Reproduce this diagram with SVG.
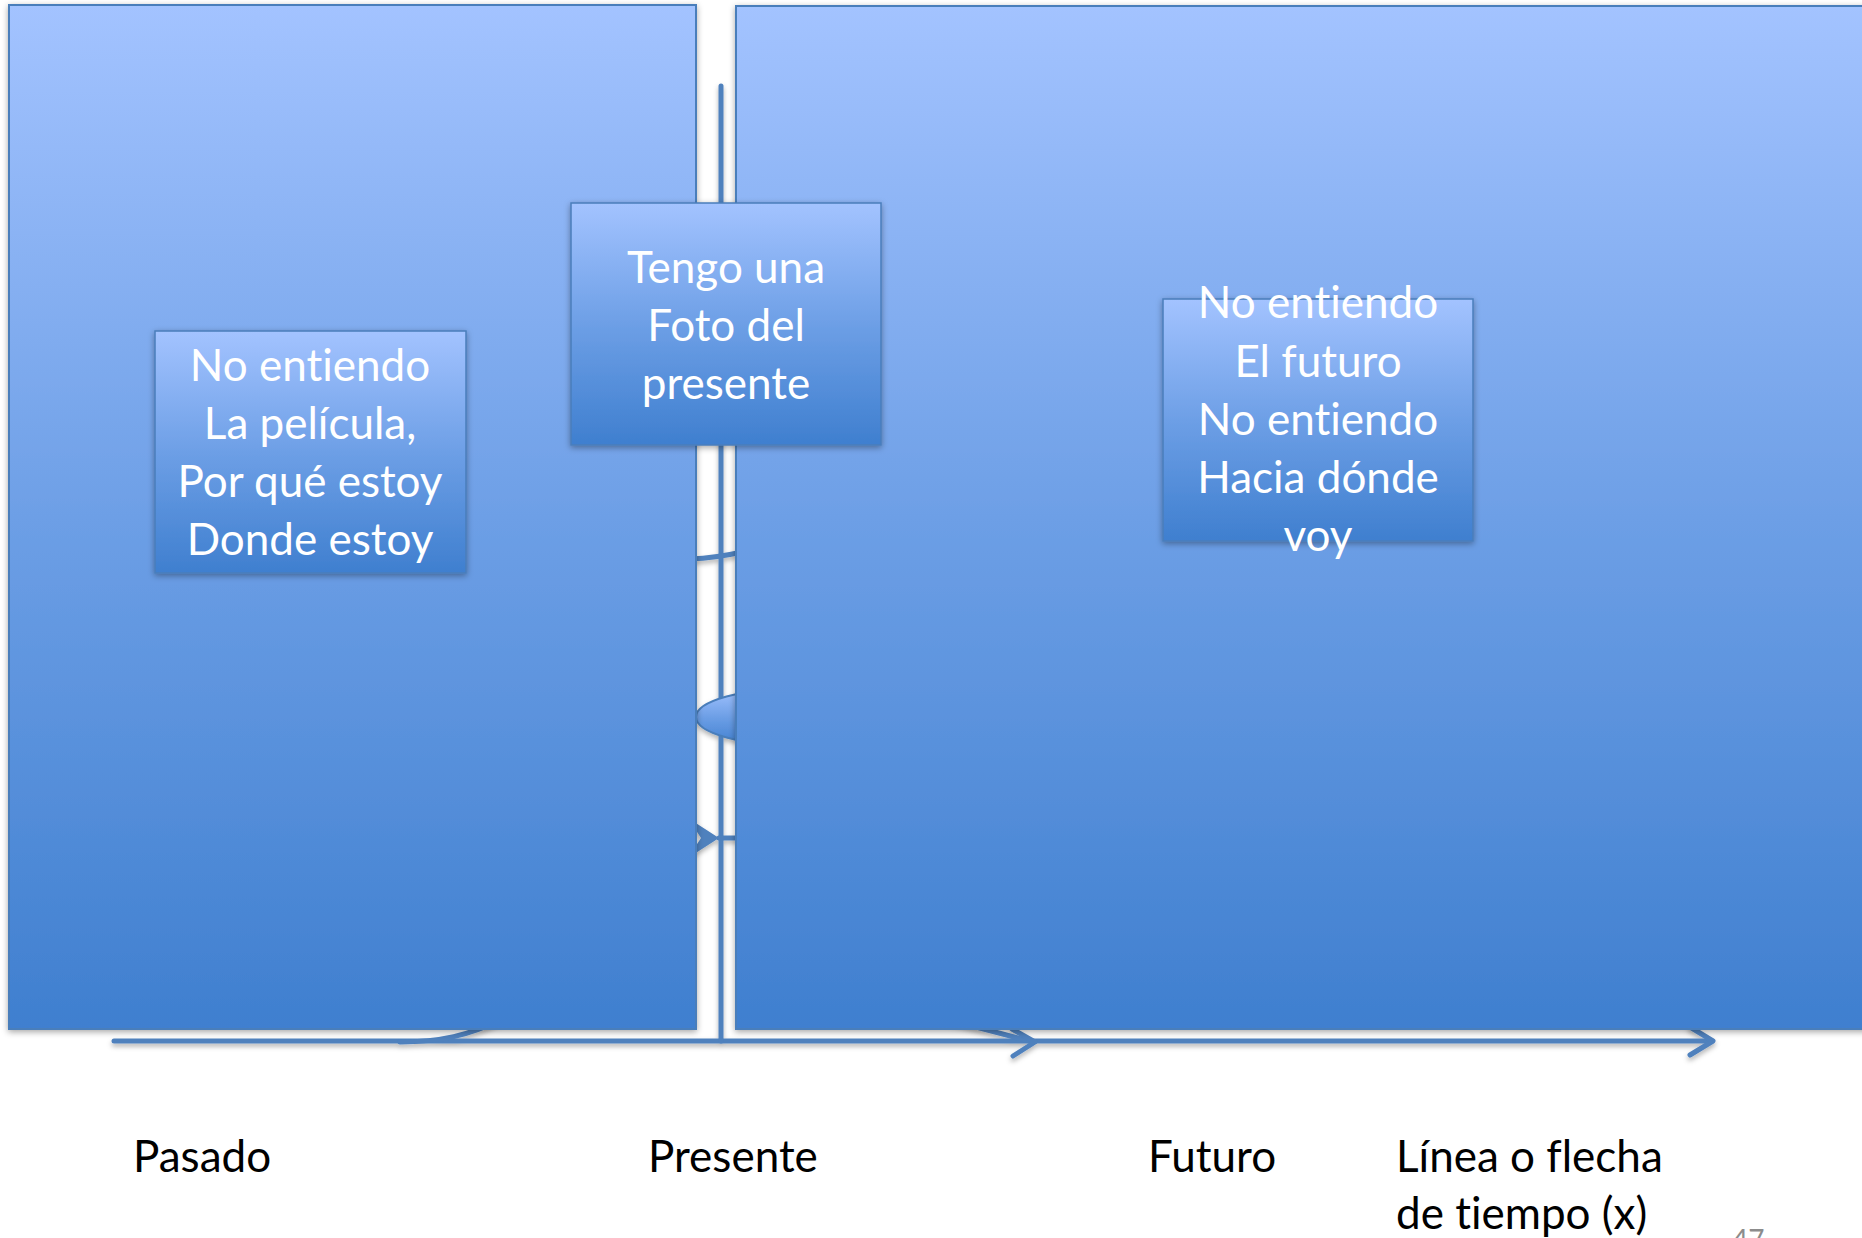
<svg xmlns="http://www.w3.org/2000/svg" width="1862" height="1238" viewBox="0 0 1862 1238">
<style>
.panel{fill:url(#blueGrad);stroke:#4a7ebb;stroke-width:2;filter:url(#shadow)}
.box{fill:url(#blueGrad);stroke:#4a7ebb;stroke-width:1.5;filter:url(#shadow)}
.boxtext{fill:#ffffff;font-family:Lato,"Open Sans","Liberation Sans",sans-serif;font-size:44px;text-anchor:middle;font-variant-ligatures:none}
.label{fill:#000000;font-family:Lato,"Open Sans","Liberation Sans",sans-serif;font-size:44px;font-variant-ligatures:none}
.conn{fill:none;stroke:#4f81bd;stroke-width:5;stroke-linecap:round;stroke-linejoin:round}
.pagenum{fill:#8c8c8c;font-family:Lato,"Open Sans","Liberation Sans",sans-serif;font-size:28px}
</style>
<defs>
<linearGradient id="blueGrad" x1="0" y1="0" x2="0" y2="1">
<stop offset="0" stop-color="#a3c3ff"/>
<stop offset="0.5" stop-color="#6d9fe6"/>
<stop offset="1" stop-color="#3f7fcf"/>
</linearGradient>
<filter id="shadow" x="-5%" y="-5%" width="110%" height="110%">
<feDropShadow dx="0" dy="2" stdDeviation="3" flood-color="#000000" flood-opacity="0.35"/>
</filter>
<filter id="lineShadow" x="-5%" y="-50%" width="110%" height="300%">
<feDropShadow dx="0" dy="3" stdDeviation="2.5" flood-color="#000000" flood-opacity="0.3"/>
</filter>
</defs>
<rect width="1862" height="1238" fill="#ffffff"/>

<g id="connectors" filter="url(#lineShadow)">
<path class="conn" d="M 114 1041 L 1712 1041"/>
<path class="conn" d="M 1690 1027 L 1713 1041 L 1690 1055"/>
<path class="conn" d="M 400 1042 C 440 1042 470 1035 500 1020"/>
<path class="conn" d="M 930 1015 L 1033 1042"/>
<path class="conn" d="M 1012 1029 L 1035 1042 L 1013 1056"/>
<path class="conn" d="M 721 86 L 721 1041"/>
<path class="conn" d="M 690 559 Q 716 558 742 552"/>
<path class="conn" d="M 719 838 L 742 838"/>
<polygon points="688,818 719,838 688,858 701,838" fill="#4f81bd"/>
<ellipse cx="800" cy="717" rx="104" ry="29" fill="url(#blueGrad)" stroke="#4a7ebb" stroke-width="2"/>
</g>

<g id="panel-pasado">
<rect class="panel" x="9" y="5" width="687" height="1024"/>
</g>
<g id="panel-futuro">
<rect class="panel" x="736" y="6" width="1140" height="1023"/>
</g>

<g id="node-pasado">
<rect class="box" x="155" y="331" width="311" height="242"/>
<text class="boxtext" x="310" y="381">No entiendo</text>
<text class="boxtext" x="310" y="439">La película,</text>
<text class="boxtext" x="310" y="497">Por qué estoy</text>
<text class="boxtext" x="310" y="555">Donde estoy</text>
</g>

<g id="node-presente">
<rect class="box" x="571" y="203" width="310" height="242"/>
<text class="boxtext" x="726" y="283">Tengo una</text>
<text class="boxtext" x="726" y="341">Foto del</text>
<text class="boxtext" x="726" y="399">presente</text>
</g>

<g id="node-futuro">
<rect class="box" x="1163" y="299" width="310" height="242"/>
<text class="boxtext" x="1318" y="318">No entiendo</text>
<text class="boxtext" x="1318" y="377">El futuro</text>
<text class="boxtext" x="1318" y="435">No entiendo</text>
<text class="boxtext" x="1318" y="493">Hacia dónde</text>
<text class="boxtext" x="1318" y="551">voy</text>
</g>

<g id="labels">
<text class="label" x="133" y="1172">Pasado</text>
<text class="label" x="648" y="1172">Presente</text>
<text class="label" x="1148" y="1172">Futuro</text>
<text class="label" x="1396" y="1172">Línea o flecha</text>
<text class="label" x="1396" y="1229">de tiempo (x)</text>
<text class="pagenum" x="1732" y="1250">47</text>
</g>
</svg>
